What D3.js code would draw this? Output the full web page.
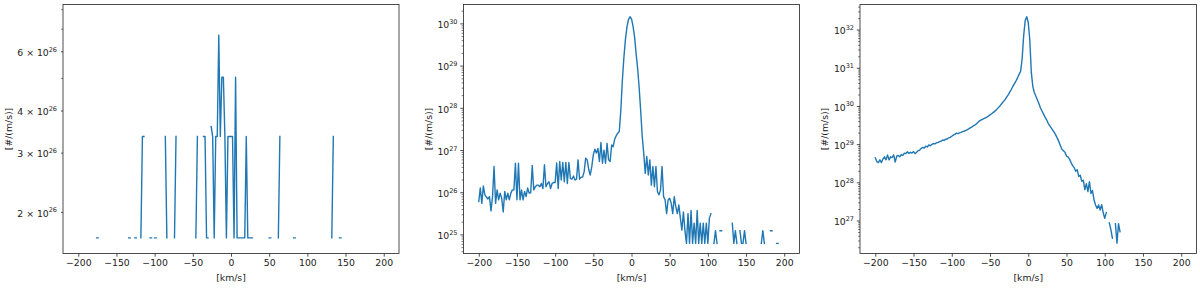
<!DOCTYPE html>
<html>
<head>
<meta charset="utf-8">
<script src="https://cdn.jsdelivr.net/npm/d3@7"></script>
<style>
  body { margin: 0; background: #fff; }
  svg { display: block; font-family: "DejaVu Sans", sans-serif; }
</style>
</head>
<body>
<svg id="fig" width="1200" height="288"></svg>
<script>
// velocity bin centres [km/s], shared by all three histograms
var velocity = d3.range(-200, 201, 2);

// panel 1: only a handful of filled bins (empty bins are left out)
var sparseVel = [-176, -174, -134, -132, -126, -124, -118, -116, -114, -106, -104, -100, -98,
  -86, -84, -74, -72, -46, -44, -36, -34, -32, -30, -26, -24, -22, -20, -18, -16, -14, -12,
  -10, -8, -6, -4, -2, 0, 2, 4, 6, 8, 10, 12, 14, 16, 18, 20, 22, 24, 26, 28, 50, 52, 62, 64,
  82, 84, 132, 134, 142, 144];
var sparseVal = [1.68e26, 1.68e26, 1.68e26, 1.68e26, 1.68e26, 1.68e26, 1.68e26, 3.36e26, 3.36e26,
  1.68e26, 1.68e26, 1.68e26, 1.68e26, 3.36e26, 1.68e26, 1.68e26, 3.36e26, 1.68e26, 3.36e26,
  3.36e26, 3.36e26, 1.68e26, 1.68e26, 3.6e26, 3.36e26, 1.68e26, 3.36e26, 3.36e26, 6.72e26,
  3.36e26, 5.04e26, 5.04e26, 3.36e26, 1.68e26, 3.36e26, 3.36e26, 3.36e26, 3.36e26, 1.68e26,
  5.04e26, 1.68e26, 1.68e26, 1.68e26, 1.68e26, 1.68e26, 1.68e26, 3.36e26, 1.68e26, 1.68e26,
  1.68e26, 1.68e26, 1.68e26, 1.68e26, 1.68e26, 3.36e26, 1.68e26, 1.68e26, 1.68e26, 3.36e26,
  1.68e26, 1.68e26];

// panel 2 (null = empty bin)
var midVal = [
  6.2e25, 1.3e26, 5.6e25, 1.45e26, 8.9e25, 7.9e25, 7.1e25, 8.1e25, 3.7e25, 7.9e25,
  4.2e26, 5.6e25, 1.17e26, 6.8e25, 9.8e25, 7.4e25, 3.5e25, 1.07e26, 6.8e25, 9.8e25,
  6.8e25, 9.8e25, 1.17e26, 1.17e26, 5.0e26, 6.8e25, 5.0e26, 6.8e25, 1.17e26, 6.8e25,
  1.07e26, 8.1e25, 1.29e26, 9.8e25, 1.0e26, 4.4e26, 1.17e26, 1.38e26, 1.51e26, 1.51e26,
  1.38e26, 1.66e26, 1.26e26, 4.6e26, 1.38e26, 1.66e26, 1.82e26, 1.26e26, 1.66e26, 1.74e26,
  1.74e26, 5.1e26, 1.26e26, 5.5e26, 2.0e26, 5.2e26, 1.82e26, 5.2e26, 1.66e26, 5.2e26,
  2.19e26, 2.09e26, 2.5e26, 2.0e26, 2.09e26, 6.0e26, 2.09e26, 2.34e26, 2.34e26, 3.16e26,
  6.6e26, 6.0e26, 3.55e26, 2.63e26, 4.17e26, 7.9e26, 1.07e27, 8.7e26, 1.12e27, 5.5e26,
  1.55e27, 5.0e26, 1.02e27, 5.0e26, 1.48e27, 6.0e26, 5.5e26, 1.35e27, 1.23e27, 1.86e27,
  2.24e27, 2.57e27, 2.82e27, 8.9e27, 4.5e28, 1.58e29, 4.17e29, 8.3e29, 1.26e30, 1.48e30,
  1.32e30, 8.9e29, 5.0e29, 2.0e29, 8.9e28, 3.16e28, 8.9e27, 2.24e27, 8.7e26, 2.88e26,
  7.2e26, 2.63e26, 6.0e26, 1.51e26, 4.17e26, 1.38e26, 4.17e26, 1.07e26, 8.9e25, 1.17e26,
  4.17e26, 8.1e25, 6.8e25, 3.2e25, 6.8e25, 7.4e25, 5.6e25, 3.2e25, 8.1e25, 4.7e25,
  3.2e25, 5.1e25, 2.5e25, 1.3e25, 3.5e25, 1.26e25, 6.3e24, 3.2e25, 6.3e24, 3.8e25,
  6.3e24, 1.9e25, 6.3e24, 3.8e25, 6.3e24, 1.9e25, 6.3e24, 1.9e25, 6.3e24, 1.9e25,
  6.3e24, 2.5e25, 3.2e25, null, 6.3e24, 1.26e25, 6.3e24, null, 1.26e25, 1.26e25,
  null, null, null, null, null, null, 1.9e25, 6.3e24, 1.26e25, 6.3e24,
  null, 1.26e25, 6.3e24, 6.3e24, 1.26e25, 6.3e24, null, null, null, null,
  null, null, null, null, null, 6.3e24, 1.26e25, 6.3e24, null, null,
  null, 1.26e25, 1.26e25, null, null, 6.3e24, 6.3e24, null, null, null,
  null];

// panel 3 (null = empty bin)
var wideVal = [
  4.5e28, 3.6e28, 3.4e28, 4.0e28, 3.4e28, 4.2e28, 4.8e28, 4.0e28, 5.4e28, 4.0e28,
  4.8e28, 4.6e28, 5.4e28, 3.5e28, 5.0e28, 5.2e28, 4.8e28, 5.5e28, 5.2e28, 6.0e28,
  5.8e28, 6.5e28, 5.9e28, 6.3e28, 6.0e28, 6.6e28, 5.8e28, 6.3e28, 6.9e28, 7.2e28,
  7.9e28, 8.5e28, 8.1e28, 9.1e28, 8.7e28, 9.8e28, 9.3e28, 1.02e29, 1.07e29, 1.05e29,
  1.12e29, 1.15e29, 1.2e29, 1.23e29, 1.32e29, 1.29e29, 1.38e29, 1.41e29, 1.51e29, 1.55e29,
  1.66e29, 1.78e29, 1.86e29, 2.0e29, 1.95e29, 2.04e29, 2.09e29, 2.19e29, 2.24e29, 2.34e29,
  2.45e29, 2.57e29, 2.75e29, 2.88e29, 3.09e29, 3.24e29, 3.47e29, 3.8e29, 4.17e29, 4.37e29,
  4.57e29, 4.79e29, 5.01e29, 5.25e29, 5.62e29, 6.03e29, 6.46e29, 6.92e29, 7.41e29, 8.13e29,
  8.91e29, 9.77e29, 1.1e30, 1.23e30, 1.38e30, 1.55e30, 1.78e30, 2.04e30, 2.4e30, 2.82e30,
  3.39e30, 3.98e30, 4.68e30, 5.62e30, 6.92e30, 8.3e30, 1.78e31, 7.1e31, 1.78e32, 2.24e32,
  1.58e32, 5.6e31, 7.9e30, 3.31e30, 2.29e30, 1.86e30, 1.48e30, 1.17e30, 9.12e29, 7.59e29,
  6.31e29, 5.25e29, 4.47e29, 3.63e29, 3.16e29, 2.75e29, 2.4e29, 2.09e29, 1.78e29, 1.48e29,
  1.2e29, 9.55e28, 7.59e28, 6.92e28, 6.31e28, 5.01e28, 4.79e28, 4.17e28, 3.39e28, 2.82e28,
  2.51e28, 2.0e28, 2.19e28, 1.48e28, 1.58e28, 1.1e28, 1.17e28, 6.61e27, 9.55e27, 5.89e27,
  1.07e28, 5.25e27, 6.31e27, 3.55e27, 2.63e27, 2.14e27, 2.63e27, 1.95e27, 2.69e27, 1.66e27,
  1.17e27, 1.66e27, null, 8.91e26, 6.03e26, 3.55e26, null, 8.51e26, 2.63e26, 8.51e26,
  5.25e26, null, null, null, null, null, null, null, null, null,
  null, null, null, null, null, null, null, null, null, null,
  null, null, null, null, null, null, null, null, null, null,
  null, null, null, null, null, null, null, null, null, null,
  null];

var xTicks = [-200, -150, -100, -50, 0, 50, 100, 150, 200];
var sparseTicks = [2e26, 3e26, 4e26, 6e26];   // labelled ticks of panel 1
var sparseMinor = [5e26, 7e26, 8e26];

var sparseSeries = velocity.map(function(v) {
  var i = sparseVel.indexOf(v);
  return {v: v, y: i < 0 ? null : sparseVal[i]};
});
var midSeries = velocity.map(function(v, i) { return {v: v, y: midVal[i]}; });
var wideSeries = velocity.map(function(v, i) { return {v: v, y: wideVal[i]}; });

var TOP = 4.5, BOTTOM = 253.5;
var panels = [
  {left: 63,    right: 399,    yDomain: [1.51e26, 8.29e26], data: sparseSeries, ylabelX: 8.5,   sparse: true},
  {left: 463.5, right: 799.5,  yDomain: [3.63e24, 2.88e30], data: midSeries,    ylabelX: 428.5},
  {left: 860,   right: 1196.5, yDomain: [1.41e26, 4.68e32], data: wideSeries,   ylabelX: 825}
];

var svg = d3.select("#fig");
var ink = "#222";
var fs = 9.3;

function expOf(d) { return Math.round(Math.log10(d)); }

panels.forEach(function(p) {
  var x = d3.scaleLinear().domain([-220, 220]).range([p.left, p.right]);
  var y = d3.scaleLog().domain(p.yDomain).range([BOTTOM, TOP]);
  var g = svg.append("g");

  // data line, broken at empty bins like matplotlib does with log(0)
  var line = d3.line()
    .defined(function(d) { return d.y != null; })
    .x(function(d) { return x(d.v); })
    .y(function(d) { return y(d.y); });

  g.append("path")
    .datum(p.data)
    .attr("d", line)
    .attr("fill", "none")
    .attr("stroke", "#1f77b4")
    .attr("stroke-width", 1.4)
    .attr("stroke-linejoin", "round")
    .attr("stroke-linecap", "square");

  // frame
  g.append("rect")
    .attr("x", p.left).attr("y", TOP)
    .attr("width", p.right - p.left).attr("height", BOTTOM - TOP)
    .attr("fill", "none").attr("stroke", ink).attr("stroke-width", 0.8);

  // x axis
  var xa = g.append("g")
    .attr("transform", "translate(0," + BOTTOM + ")")
    .call(d3.axisBottom(x).tickValues(xTicks).tickSize(3.2).tickSizeOuter(0).tickPadding(3)
      .tickFormat(function(d) { return d < 0 ? "\u2212" + Math.abs(d) : d; }));
  xa.select(".domain").remove();
  xa.selectAll("line").attr("stroke", ink).attr("stroke-width", 0.8);
  xa.selectAll("text").attr("fill", ink).style("font-size", fs + "px")
    .style("font-family", "DejaVu Sans");

  g.append("text")
    .attr("x", (p.left + p.right) / 2).attr("y", 281)
    .attr("text-anchor", "middle").attr("fill", ink).style("font-size", fs + "px")
    .text("[km/s]");

  // y ticks
  var major, minor;
  if (p.sparse) {
    major = sparseTicks;
    minor = sparseMinor;
  } else {
    var all = y.ticks();
    major = all.filter(function(d) { return Math.abs(Math.log10(d) - expOf(d)) < 1e-9; });
    minor = all.filter(function(d) { return major.indexOf(d) < 0; });
  }
  var tickLen = p.sparse ? 1.9 : 3.2;
  g.selectAll(null).data(major).enter().append("line")
    .attr("x1", p.left - tickLen).attr("x2", p.left)
    .attr("y1", function(d) { return y(d); }).attr("y2", function(d) { return y(d); })
    .attr("stroke", ink).attr("stroke-width", 0.8);
  g.selectAll(null).data(minor).enter().append("line")
    .attr("x1", p.left - 1.9).attr("x2", p.left)
    .attr("y1", function(d) { return y(d); }).attr("y2", function(d) { return y(d); })
    .attr("stroke", ink).attr("stroke-width", 0.6);

  var lab = g.selectAll(null).data(major).enter().append("text")
    .attr("x", p.left - 6)
    .attr("y", function(d) { return y(d) + 4.2; })
    .attr("text-anchor", "end").attr("fill", ink).style("font-size", fs + "px");
  lab.append("tspan").text(function(d) {
    var e = expOf(d);
    var m = Math.round(d / Math.pow(10, e));
    if (p.sparse) {
      e = Math.floor(Math.log10(d));
      m = Math.round(d / Math.pow(10, e));
      return m + " \u00d7 10";
    }
    return "10";
  });
  lab.append("tspan")
    .attr("dy", -4.2)
    .style("font-size", "6.5px")
    .text(function(d) { return Math.floor(Math.log10(d) + 1e-9); });

  // y label
  g.append("text")
    .attr("transform", "translate(" + p.ylabelX + "," + ((TOP + BOTTOM) / 2) + ") rotate(-90)")
    .attr("dy", "0.35em")
    .attr("text-anchor", "middle").attr("fill", ink).style("font-size", fs + "px")
    .text("[#/(m/s)]");
});
</script>
</body>
</html>
